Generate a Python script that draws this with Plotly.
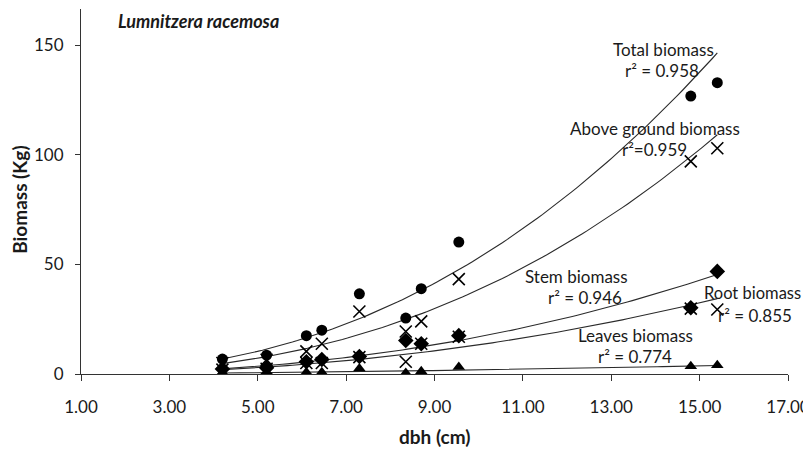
import numpy as np
import plotly.graph_objects as go

# ---- data ----
dbh = [4.2, 5.2, 6.1, 6.45, 7.3, 8.35, 8.7, 9.55, 14.8, 15.4]
total_biomass = [6.8, 8.6, 17.5, 20.0, 36.6, 25.5, 38.9, 60.2, 126.8, 132.9]
above_ground = [5.0, 6.5, 10.3, 13.8, 28.5, 19.4, 24.0, 43.3, 97.0, 103.0]
stem_biomass = [2.3, 2.8, 5.6, 6.6, 8.0, 15.3, 13.8, 17.5, 30.2, 46.8]
root_biomass = [2.0, 2.4, 5.0, 5.0, 7.7, 5.6, 13.8, 17.0, 29.8, 29.4]
leaves_biomass = [0.5, 0.5, 0.8, 0.8, 2.5, 0.5, 1.2, 3.2, 3.5, 4.0]

x_ticks = [1, 3, 5, 7, 9, 11, 13, 15, 17]
x_tick_labels = ["1.00", "3.00", "5.00", "7.00", "9.00", "11.00", "13.00", "15.00", "17.00"]
y_ticks = [0, 50, 100, 150]

FONT = "Lato"
INK = "#1a1a1a"

series = [
    ("Total biomass", total_biomass, "circle", 11),
    ("Above ground biomass", above_ground, "x-thin", 12),
    ("Stem biomass", stem_biomass, "diamond", 12),
    ("Root biomass", root_biomass, "x-thin", 12),
    ("Leaves biomass", leaves_biomass, "triangle-up", 11),
]

fig = go.Figure()

x_arr = np.array(dbh)
xs = np.linspace(x_arr.min(), x_arr.max(), 100)
# power trend lines fitted on the data
for name, vals, sym, size in series:
    y_arr = np.array(vals)
    b, a = np.polyfit(np.log(x_arr), np.log(y_arr), 1)
    fig.add_trace(go.Scatter(x=xs, y=np.exp(a) * xs ** b, mode="lines",
                             line=dict(color="#2a2a2a", width=1.1),
                             showlegend=False, hoverinfo="skip"))

for name, vals, sym, size in series:
    if sym == "x-thin":
        marker = dict(symbol=sym, size=size, line=dict(color="black", width=1.6), color="black")
    else:
        marker = dict(symbol=sym, size=size, color="black", line=dict(width=0))
    fig.add_trace(go.Scatter(x=dbh, y=vals, mode="markers", name=name,
                             marker=marker, showlegend=False))

# plot area in page pixels: x 81..788, y 9..374.3
PX0, PX1, PY0, PY1 = 81.0, 788.0, 9.0, 374.3


def px(xp):
    return (xp - PX0) / (PX1 - PX0)


def py(yp):
    return (PY1 - yp) / (PY1 - PY0)


labels = [
    ("Total biomass", 663, 50, 17), ("r² = 0.958", 662, 71, 17),
    ("Above ground biomass", 655, 129, 17), ("r²=0.959", 654, 150, 17),
    ("Stem biomass", 576, 277, 17), ("r² = 0.946", 585, 298, 17),
    ("Root biomass", 752, 293, 16.5), ("r² = 0.855", 755, 316, 17),
    ("Leaves biomass", 635, 336, 17), ("r² = 0.774", 635, 357, 17),
]
annotations = [dict(x=px(x), y=py(y), xref="paper", yref="paper", text=t, showarrow=False,
                    xanchor="center", yanchor="middle",
                    font=dict(family=FONT, size=s, color=INK))
               for t, x, y, s in labels]
annotations.append(dict(x=px(116), y=py(21), xref="paper", yref="paper",
                        text="<b><i>Lumnitzera racemosa</i></b>",
                        showarrow=False, xanchor="left", yanchor="middle",
                        font=dict(family=FONT, size=18, color=INK)))
annotations.append(dict(x=0.5, y=py(437), xref="paper", yref="paper", text="<b>dbh (cm)</b>",
                        showarrow=False, xanchor="center", yanchor="middle",
                        font=dict(family=FONT, size=19, color=INK)))
annotations.append(dict(x=px(20), y=py(200), xref="paper", yref="paper", text="<b>Biomass (Kg)</b>",
                        showarrow=False, xanchor="center", yanchor="middle", textangle=-90,
                        font=dict(family=FONT, size=19, color=INK)))

# the page body keeps its 8px margin, so the figure is shifted by 8px
W, H = 803, 443
fig.update_layout(
    width=W, height=H,
    margin=dict(l=PX0 - 8, r=W - (PX1 - 8), t=PY0 - 8, b=H - (PY1 - 8)),
    paper_bgcolor="white", plot_bgcolor="white",
    font=dict(family=FONT, color=INK),
    xaxis=dict(range=[1, 17], tickvals=x_ticks, ticktext=x_tick_labels,
               showgrid=False, zeroline=False, showline=True, linecolor="#333333", linewidth=1,
               ticks="outside", ticklen=6, tickcolor="#333333",
               tickfont=dict(family=FONT, size=17, color=INK),
               ticklabelstandoff=12),
    yaxis=dict(range=[0, 166.5], tickvals=y_ticks,
               showgrid=False, zeroline=False, showline=True, linecolor="#333333", linewidth=1,
               ticks="outside", ticklen=5, tickcolor="#333333",
               tickfont=dict(family=FONT, size=17, color=INK),
               ticklabelstandoff=8),
    annotations=annotations,
)

fig.write_html("out.html", config={"displayModeBar": False})
